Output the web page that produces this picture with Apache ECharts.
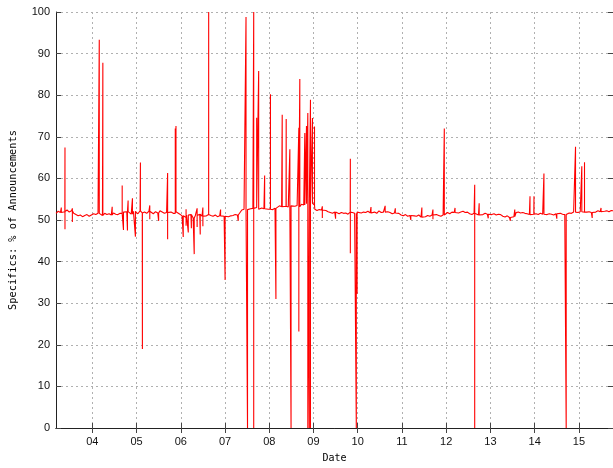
<!DOCTYPE html>
<html>
<head>
<meta charset="utf-8">
<script src="https://cdn.jsdelivr.net/npm/echarts@6/dist/echarts.min.js"></script>
<style>html,body{margin:0;padding:0;background:#fff}#c{width:613px;height:468px}</style>
</head>
<body>
<div id="c"></div>
<script>
// Year tick labels
const yearTicks = [2004, 2005, 2006, 2007, 2008, 2009, 2010, 2011, 2012, 2013, 2014, 2015];
// Regular sampling of the baseline (decimal years)
const baseStart = 2003.18;
const baseStep = 0.05;
const baseValues = [
  51.6, 52.1, 51.8, 51.5, 52.0, 52.4, 51.9, 52.2, 51.6, 51.3, 51.0, 51.2, 50.8, 51.1, 51.3, 50.9, 51.2, 51.5, 51.3, 51.6,
  51.4, 51.1, 51.6, 51.3, 51.5, 51.2, 51.7, 51.4, 51.3, 51.6, 51.9, 51.5, 52.0, 51.7, 51.4, 52.1, 51.8, 51.5, 52.2, 51.7,
  51.9, 51.6, 52.1, 51.8, 51.5, 52.0, 51.7, 52.2, 51.9, 51.6, 51.8, 51.5, 51.9, 51.6, 52.0, 51.7, 51.4, 51.0, 50.6, 51.2,
  50.8, 51.3, 50.5, 51.1, 50.7, 51.4, 50.9, 51.2, 51.0, 51.3, 51.1, 50.9, 51.2, 50.8, 51.0, 50.7, 50.9, 51.1, 50.8, 51.0,
  51.1, 51.3, 51.2, 51.6, 52.4, 52.6, 52.5, 52.9, 52.7, 52.8, 53.0, 52.6, 52.8, 52.9, 52.7, 53.0, 52.6, 52.2, 52.5, 52.8,
  53.1, 53.4, 53.2, 53.5, 53.3, 53.1, 53.4, 53.6, 53.3, 53.5, 53.2, 53.8, 53.6, 53.9, 53.7, 54.0, 53.6, 52.6, 52.3, 52.5,
  52.4, 52.1, 52.3, 52.0, 51.8, 51.6, 51.9, 51.7, 51.5, 51.8, 51.6, 51.7, 51.4, 51.9, 51.8, 51.6, 51.9, 52.0, 51.7, 51.9,
  51.8, 52.1, 51.7, 52.0, 51.9, 51.6, 52.2, 51.8, 51.9, 51.7, 52.0, 51.8, 51.5, 51.7, 51.4, 51.6, 51.2, 51.0, 51.3, 50.9,
  51.1, 50.8, 51.0, 50.9, 51.2, 50.7, 51.0, 50.8, 51.1, 50.9, 51.2, 51.0, 51.3, 51.1, 50.9, 51.2, 51.6, 51.8, 51.5, 51.9,
  51.8, 52.0, 51.7, 51.9, 52.1, 51.8, 51.9, 51.5, 51.3, 51.6, 51.4, 51.2, 51.5, 51.3, 51.6, 51.4, 51.1, 51.3, 51.5, 51.2,
  51.4, 51.3, 50.9, 50.7, 51.0, 50.6, 50.9, 50.8, 51.8, 51.9, 51.7, 51.8, 51.6, 51.5, 51.3, 51.6, 51.4, 51.5, 51.3, 51.6,
  51.4, 51.6, 51.3, 51.5, 51.4, 51.2, 51.5, 51.3, 51.6, 51.4, 51.3, 51.5, 51.7, 51.6, 51.9, 52.1, 51.8, 52.0, 51.9, 51.7,
  51.9, 52.0, 51.8, 52.1, 51.9, 52.2, 52.0, 51.9, 52.1, 52.2, 52.0, 52.3, 52.2
];
// Spikes: [decimal year, high value, low value]
const spikes = [
  [2003.3, 53.0, null],
  [2003.383, 67.4, 47.8],
  [2003.55, 52.8, 49.5],
  [2004.158, 93.3, null],
  [2004.239, 87.8, null],
  [2004.45, 53.2, null],
  [2004.676, 58.3, null],
  [2004.705, null, 47.6],
  [2004.795, null, 47.5],
  [2004.81, 54.7, null],
  [2004.908, 55.2, null],
  [2004.975, null, 46.0],
  [2005.088, 63.8, null],
  [2005.133, null, 19.0],
  [2005.3, 53.5, 50.2],
  [2005.5, null, 49.8],
  [2005.703, 61.3, 45.4],
  [2005.876, 72.0, null],
  [2005.892, 72.6, null],
  [2006.056, null, 45.9],
  [2006.12, 52.6, 48.6],
  [2006.17, null, 47.0],
  [2006.24, null, 48.0],
  [2006.304, null, 41.8],
  [2006.37, 52.8, 48.3],
  [2006.44, null, 46.5],
  [2006.5, 53.0, 48.5],
  [2006.631, 100, null],
  [2006.9, 52.5, null],
  [2007.002, null, 35.6],
  [2007.3, null, 49.8],
  [2007.475, 98.8, null],
  [2007.509, null, 0],
  [2007.649, 100, 0],
  [2007.716, 74.6, null],
  [2007.761, 85.8, null],
  [2007.896, 60.7, null],
  [2008.027, 80.2, null],
  [2008.151, null, 31.0],
  [2008.293, 75.3, null],
  [2008.383, 74.3, null],
  [2008.466, 67.0, null],
  [2008.493, null, 0],
  [2008.669, 72.2, 23.2],
  [2008.691, 83.9, null],
  [2008.804, 70.9, null],
  [2008.842, 72.6, null],
  [2008.872, 75.7, 0],
  [2008.905, null, 0],
  [2008.932, 78.9, 0],
  [2008.977, 74.5, null],
  [2009.023, 72.5, null],
  [2009.2, 53.3, 50.5],
  [2009.5, null, 50.3],
  [2009.833, 64.7, 42.0],
  [2009.968, null, 0],
  [2009.986, null, 32.3],
  [2010.3, 53.1, null],
  [2010.62, 53.4, null],
  [2010.85, 52.8, null],
  [2011.2, null, 50.0],
  [2011.45, 53.0, null],
  [2011.7, 52.5, 50.2],
  [2011.957, 72.0, null],
  [2012.2, 52.9, null],
  [2012.644, 58.5, 0],
  [2012.745, 54.0, null],
  [2012.95, null, 50.4],
  [2013.45, null, 49.8],
  [2013.55, 52.5, null],
  [2013.894, 55.7, null],
  [2013.984, 55.7, null],
  [2014.209, 61.2, null],
  [2014.5, null, 50.3],
  [2014.712, null, 0],
  [2014.923, 67.6, null],
  [2015.065, 62.9, null],
  [2015.126, 63.9, null],
  [2015.3, null, 50.5],
  [2015.5, 52.9, null]
];

// Merge baseline samples and spikes into one line
const sp = spikes.slice().sort((a, b) => a[0] - b[0]);
const pts = [];
let si = 0;
for (let i = 0; i < baseValues.length; i++) {
  const t = baseStart + i * baseStep, v = baseValues[i];
  while (si < sp.length && sp[si][0] < t) {
    const [st, hi, lo] = sp[si];
    const prev = pts.length ? pts[pts.length - 1][1] : v;
    pts.push([st, prev]);
    if (hi != null) pts.push([st, hi]);
    if (lo != null) pts.push([st, lo]);
    pts.push([st, prev]);
    si++;
  }
  pts.push([t, v]);
}

const chart = echarts.init(document.getElementById('c'), null, {renderer: 'canvas'});
const gridLine = {show: true, lineStyle: {color: '#b0b0b0', type: [2, 3], width: 1}};
const axLine = {show: true, lineStyle: {color: '#222', width: 1}};
const tickStyle = {show: true, inside: true, length: 5, lineStyle: {color: '#444', width: 1}};
chart.setOption({
  animation: false,
  backgroundColor: '#fff',
  grid: {left: 54, right: -1, top: 12, bottom: 38, containLabel: false},
  xAxis: [{
    type: 'value', min: 2003.18, max: 2015.77, position: 'bottom',
    name: 'Date', nameLocation: 'middle', nameGap: 25,
    nameTextStyle: {fontFamily: 'DejaVu Sans Mono', fontSize: 10, color: '#000'},
    axisLine: axLine,
    axisTick: Object.assign({customValues: yearTicks}, tickStyle),
    axisLabel: {customValues: yearTicks, formatter: v => String(Math.round(v)).slice(2),
      fontFamily: 'Liberation Sans', fontSize: 11, color: '#111', margin: 8},
    splitLine: gridLine
  }, {
    type: 'value', min: 2003.18, max: 2015.77, position: 'top',
    axisLine: axLine,
    axisTick: Object.assign({customValues: yearTicks}, tickStyle),
    axisLabel: {show: false}, splitLine: {show: false}
  }],
  yAxis: [{
    type: 'value', min: 0, max: 100, interval: 10, position: 'left',
    name: 'Specifics: % of Announcements', nameLocation: 'middle', nameGap: 38,
    nameTextStyle: {fontFamily: 'DejaVu Sans Mono', fontSize: 10.3, color: '#000'},
    axisLine: axLine, axisTick: tickStyle,
    axisLabel: {fontFamily: 'Liberation Sans', fontSize: 11, color: '#111', margin: 6},
    splitLine: gridLine
  }, {
    type: 'value', min: 0, max: 100, interval: 10, position: 'right',
    axisLine: axLine, axisTick: tickStyle,
    axisLabel: {show: false}, splitLine: {show: false}
  }],
  series: [{
    type: 'line', data: pts, showSymbol: false, symbol: 'none',
    lineStyle: {color: '#ff0000', width: 1.1}, itemStyle: {color: '#ff0000'},
    sampling: null, clip: true, silent: true
  }]
});
</script>
</body>
</html>
